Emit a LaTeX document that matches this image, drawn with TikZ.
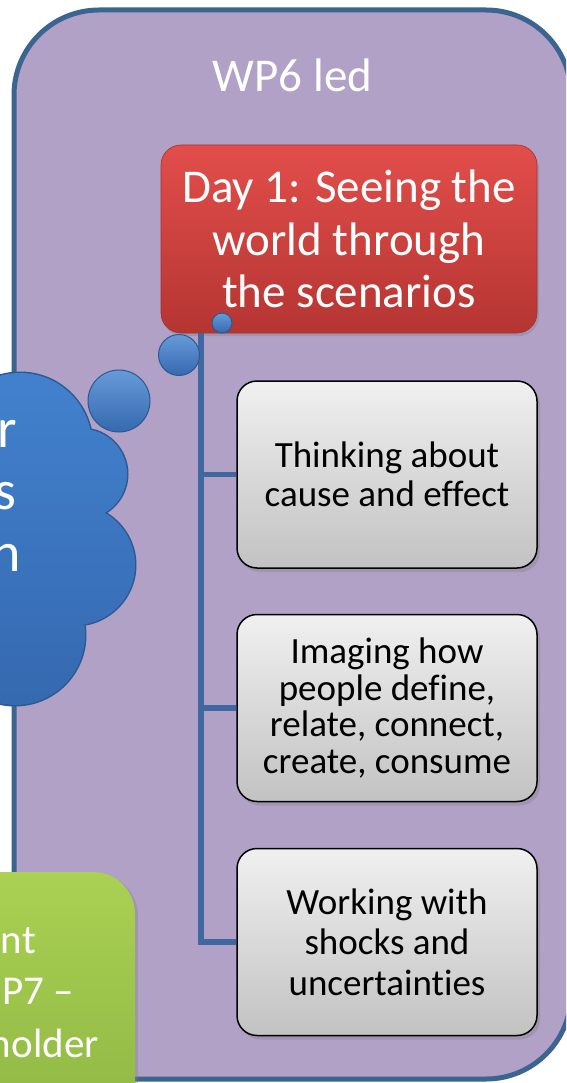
\documentclass[tikz,border=0pt]{standalone}
\usepackage{fontspec}
\setmainfont{Carlito}[Ligatures={NoCommon}]
\usetikzlibrary{shadows}
\definecolor{purp}{HTML}{B1A1C7}
\definecolor{edgeblue}{HTML}{3B6491}
\definecolor{linkblue}{HTML}{4068A0}
\definecolor{redtop}{HTML}{E24E4B}
\definecolor{redbot}{HTML}{B53532}
\definecolor{redline}{HTML}{A8302E}
\definecolor{graytop}{HTML}{F0F0F0}
\definecolor{graybot}{HTML}{C2C2C2}
\definecolor{cloudtop}{HTML}{4281CE}
\definecolor{cloudbot}{HTML}{3569B0}
\definecolor{cloudline}{HTML}{2B5A90}
\definecolor{greentop}{HTML}{AAD152}
\definecolor{greenbot}{HTML}{8CB442}
\begin{document}
\begin{tikzpicture}[x=1pt,y=-1pt,
  container/.style={draw=edgeblue, line width=5pt, fill=purp, rounded corners=85pt},
  redbox/.style={rounded corners=20pt, top color=redtop, bottom color=redbot, draw=redline, line width=0.6pt,
    minimum width=376pt, minimum height=188pt, text=white, align=center,
    font=\fontsize{47}{52.5}\selectfont, inner sep=0pt,
    drop shadow={opacity=0.35, shadow xshift=2pt, shadow yshift=-3pt}},
  graybox/.style={rounded corners=20pt, top color=graytop, bottom color=graybot, draw=black, line width=1.5pt,
    minimum width=300pt, minimum height=187pt, align=center, inner sep=0pt,
    drop shadow={opacity=0.35, shadow xshift=3pt, shadow yshift=-4pt}},
  graytext/.style={font=\fontsize{37}{39.5}\selectfont},
  link/.style={draw=linkblue, line width=5.5pt},
  bubble/.style={circle, draw=cloudline, line width=1pt, top color=cloudtop!80!white, bottom color=cloudbot, inner sep=0pt},
  whitetext/.style={text=white, inner sep=0pt, anchor=base east},
  greenbox/.style={rounded corners=42pt, top color=greentop, bottom color=greenbot,
    drop shadow={opacity=0.35, shadow xshift=3pt, shadow yshift=-2pt}},
]
\useasboundingbox (0,0) rectangle (566,1083);
\clip (0,0) rectangle (566,1083);
\fill[white] (0,0) rectangle (566,1083);

% container
\path[container] (14,10) rectangle (571,1079);
\node[text=white, font=\fontsize{47}{52}\selectfont, inner sep=0pt, anchor=base] (wp6) at (292.5,91.5) {WP6 led};

% red box
\node[redbox] (day1) at (349,239) {Day 1: Seeing the\\world through\\the scenarios};

% gray boxes
\node[graybox, graytext] (g1) at (387,474.5) {Thinking about\\cause and effect};
\node[graybox, font=\fontsize{37}{36.7}\selectfont] (g2) at (387,708) {Imaging how\\people define,\\relate, connect,\\create, consume};
\node[graybox, font=\fontsize{37}{40.5}\selectfont] (g3) at (387,942) {Working with\\shocks and\\uncertainties};

% connectors
\coordinate (trunk) at (201,333);
\draw[link, line join=miter] (trunk) |- (g3.west);
\draw[link] (trunk |- g1.west) -- (g1.west);
\draw[link] (trunk |- g2.west) -- (g2.west);

% cloud
\path[draw=cloudline, line width=3pt]
  (20,445) circle[radius=72pt] (82,474) circle[radius=45pt] (75,565) circle[radius=60pt]
  (15,635) circle[radius=70pt] (-10,540) circle[radius=100pt];
\shade[top color=cloudtop, bottom color=cloudbot]
  (20,445) circle[radius=72pt] (82,474) circle[radius=45pt] (75,565) circle[radius=60pt]
  (15,635) circle[radius=70pt] (-10,540) circle[radius=100pt];
\node[whitetext, font=\fontsize{56}{62}\selectfont] (c1) at (17,447) {r};
\node[whitetext, font=\fontsize{56}{62}\selectfont] (c2) at (17,509) {s};
\node[whitetext, font=\fontsize{56}{62}\selectfont] (c3) at (21,571) {n};

% bubbles
\node[bubble, minimum size=62pt] (b1) at (119,401) {};
\node[bubble, minimum size=41pt] (b2) at (179,355) {};
\node[bubble, minimum size=20pt] (b3) at (222,323) {};

% green box
\path[greenbox] (-80,872) rectangle (135,1160);
\node[whitetext, font=\fontsize{41}{52}\selectfont] (e1) at (36,953) {nt};
\node[whitetext, font=\fontsize{41}{52}\selectfont] (e2) at (74,1004) {P7 –};
\node[whitetext, font=\fontsize{41}{52}\selectfont] (e3) at (99,1057) {holder};
\end{tikzpicture}
\end{document}
